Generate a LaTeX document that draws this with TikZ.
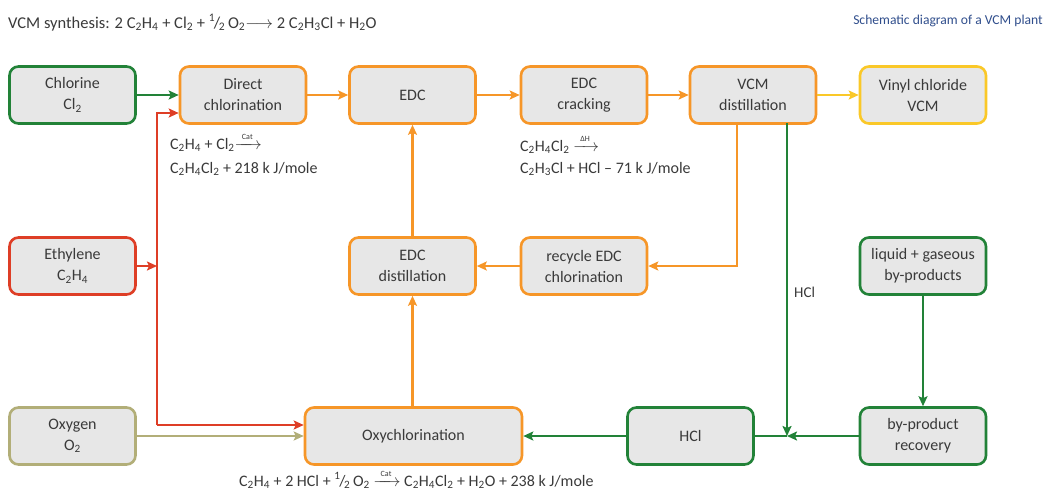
\documentclass[tikz,border=0pt]{standalone}
\usepackage{fontspec}
\usepackage{amsmath}
\setmainfont{Carlito}
\usetikzlibrary{arrows.meta}
\definecolor{cgreen}{RGB}{34,130,56}
\definecolor{corange}{RGB}{246,150,40}
\definecolor{cred}{RGB}{222,62,38}
\definecolor{colive}{RGB}{178,174,120}
\definecolor{cyellow}{RGB}{250,200,40}
\definecolor{boxgray}{RGB}{231,231,231}
\definecolor{txt}{RGB}{58,58,58}
\definecolor{cblue}{RGB}{48,78,140}
\newcommand\sbs[1]{\textsubscript{#1}}
\newcommand\hlf{\textsuperscript{1}\kern-0.08em/\kern-0.08em\textsubscript{2}}
\newcommand\rarr[1]{$\xrightarrow{\text{\fontsize{8}{9}\selectfont\hspace{0.5em}#1\hspace{0.5em}}}$}
\begin{document}
\begin{tikzpicture}[x=1pt,y=-1pt,
  box/.style={rectangle,rounded corners=9pt,minimum width=126pt,minimum height=57pt,
    fill=boxgray,line width=2.6pt,align=center,text=txt,
    font=\fontsize{16}{21}\selectfont},
  arr/.style={line width=2.6pt,-{Stealth[length=10pt,width=9pt,inset=2pt]}},
  ln/.style={line width=2.6pt},
  rx/.style={anchor=base west,text=txt,inner sep=0pt,font=\fontsize{16}{18}\selectfont}]
\useasboundingbox (0,0) rectangle (1046,491);
% boxes
\node[box,draw=cgreen]  (chl) at (72.5,95)  {Chlorine\\Cl\sbs{2}};
\node[box,draw=corange] (dc)  at (243,95)   {Direct\\chlorination};
\node[box,draw=corange] (edc) at (412.5,95) {EDC};
\node[box,draw=corange] (crk) at (584,95)   {EDC\\cracking};
\node[box,draw=corange] (vcm) at (753,95)   {VCM\\distillation};
\node[box,draw=cyellow] (vc)  at (923,95)   {Vinyl chloride\\VCM};
\node[box,draw=cred]    (eth) at (72.5,266) {Ethylene\\C\sbs{2}H\sbs{4}};
\node[box,draw=corange] (edd) at (412.5,266){EDC\\distillation};
\node[box,draw=corange] (rec) at (584,266)  {recycle EDC\\chlorination};
\node[box,draw=cgreen]  (lgb) at (923,266)  {liquid + gaseous\\by-products};
\node[box,draw=colive]  (oxg) at (72.5,436) {Oxygen\\O\sbs{2}};
\node[box,draw=corange,minimum width=217pt] (oxy) at (413.5,436) {Oxychlorination};
\node[box,draw=cgreen]  (hcl) at (690.5,436){HCl};
\node[box,draw=cgreen]  (bpr) at (923,436)  {by-product\\recovery};
% titles
\node[anchor=base west,text=txt,inner sep=0pt,font=\fontsize{16.5}{18}\selectfont] (t1) at (8,28)
  {VCM synthesis: 2 C\sbs{2}H\sbs{4} + Cl\sbs{2} + \hlf\,O\sbs{2}$\longrightarrow$ 2 C\sbs{2}H\sbs{3}Cl + H\sbs{2}O};
\node[anchor=base east,text=cblue,inner sep=0pt,font=\fontsize{13.6}{15}\selectfont] (t2) at (1043,24)
  {Schematic diagram of a VCM plant};
% reaction texts
\node[rx] (r1a) at (170,149) {C\sbs{2}H\sbs{4} + Cl\sbs{2}\rarr{Cat}};
\node[rx] (r1b) at (170,173) {C\sbs{2}H\sbs{4}Cl\sbs{2} + 218 k J/mole};
\node[rx] (r2a) at (520,151) {C\sbs{2}H\sbs{4}Cl\sbs{2} \rarr{ΔH}};
\node[rx] (r2b) at (520,173) {C\sbs{2}H\sbs{3}Cl + HCl -- 71 k J/mole};
\node[rx] (r3)  at (239,486) {C\sbs{2}H\sbs{4} + 2 HCl + \hlf\,O\sbs{2} \rarr{Cat} C\sbs{2}H\sbs{4}Cl\sbs{2} + H\sbs{2}O + 238 k J/mole};
\node[anchor=west,text=txt,inner sep=0pt,font=\fontsize{15}{16}\selectfont] (hl) at (794,292) {HCl};
% coordinates
\coordinate (rtop) at (157,113);
\coordinate (rbot) at (157,425);
\coordinate (otop) at (737,123);
\coordinate (gtop) at (787,123);
\coordinate (jn)   at (787,436);
% connectors
\draw[arr,cgreen] (chl.east) -- (dc.west);
\draw[arr,corange] (dc.east) -- (edc.west);
\draw[arr,corange] (edc.east) -- (crk.west);
\draw[arr,corange] (crk.east) -- (vcm.west);
\draw[arr,cyellow] (vcm.east) -- (vc.west);
\draw[arr,cred] (eth.east) -- (eth.east -| rtop);
\draw[arr,cred] (rbot) -- (rtop) -- (rtop -| dc.west);
\draw[arr,cred] (rbot) -- (rbot -| oxy.west);
\draw[arr,colive] (oxg.east) -- (oxg.east -| oxy.west);
\draw[arr,corange] (otop) |- (rec.east);
\draw[arr,corange] (rec.west) -- (edd.east);
\draw[arr,corange] (edd.north) -- (edc.south);
\draw[arr,corange] (oxy.north -| edd.south) -- (edd.south);
\draw[arr,cgreen] (gtop) -- (jn);
\draw[arr,cgreen] (bpr.west) -- (jn);
\draw[ln,cgreen] (jn) -- (hcl.east);
\draw[arr,cgreen] (hcl.west) -- (oxy.east);
\draw[arr,cgreen] (lgb.south) -- (bpr.north);
\end{tikzpicture}
\end{document}
